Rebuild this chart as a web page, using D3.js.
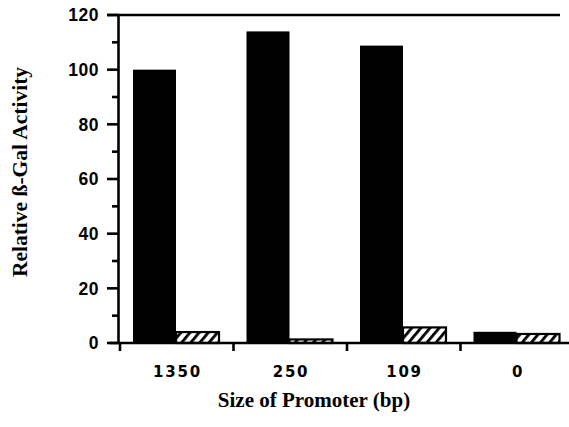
<!DOCTYPE html>
<html>
<head>
<meta charset="utf-8">
<script src="https://cdn.jsdelivr.net/npm/d3@7"></script>
<style>
  html, body { margin: 0; padding: 0; background: #fff; }
  svg { display: block; }
</style>
</head>
<body>
<svg id="chart" width="569" height="427"></svg>
<script>
const categories = ["1350", "250", "109", "0"];
const seriesNames = ["solid", "hatched"];
const solidValues = [100, 114, 108.8, 4.1];
const hatchedValues = [4.0, 1.3, 5.7, 3.3];
const yMajorTicks = [0, 20, 40, 60, 80, 100, 120];
const yMinorTicks = [10, 30, 50, 70, 90, 110];
const yTitle = "Relative ß-Gal Activity";
const xTitle = "Size of Promoter (bp)";

const svg = d3.select("#chart");
const axisX = 118.5;

const y = d3.scaleLinear().domain([0, 120]).range([343, 15]);
const x0 = d3.scaleBand().domain(categories).range([120, 574]).padding(0);
const x1 = d3.scaleBand().domain(seriesNames).range([13, 99]).padding(0);

// hatch pattern
const defs = svg.append("defs");
const pat = defs.append("pattern")
  .attr("id", "hatch")
  .attr("patternUnits", "userSpaceOnUse")
  .attr("width", 7).attr("height", 7)
  .attr("patternTransform", "rotate(40)");
pat.append("rect").attr("width", 7).attr("height", 7).attr("fill", "#fff");
pat.append("rect").attr("x", 0).attr("y", 0).attr("width", 2.8).attr("height", 7).attr("fill", "#000");

const data = categories.map((c, i) => ({ cat: c, vals: [
  { s: "solid", v: solidValues[i] },
  { s: "hatched", v: hatchedValues[i] }
]}));

// bars
const groups = svg.append("g").selectAll("g").data(data).join("g")
  .attr("transform", d => `translate(${x0(d.cat)},0)`);
groups.selectAll("rect").data(d => d.vals).join("rect")
  .attr("x", d => x1(d.s))
  .attr("width", x1.bandwidth())
  .attr("y", d => y(d.v))
  .attr("height", d => y(0) - y(d.v))
  .attr("fill", d => d.s === "solid" ? "#000" : "url(#hatch)")
  .attr("stroke", "#000")
  .attr("stroke-width", d => d.s === "solid" ? 0 : 2.2);

// top frame line
svg.append("line")
  .attr("x1", 107).attr("x2", 560)
  .attr("y1", y(120)).attr("y2", y(120))
  .attr("stroke", "#000").attr("stroke-width", 2.6);

// y axis line
svg.append("line")
  .attr("x1", axisX).attr("x2", axisX)
  .attr("y1", y(120)).attr("y2", y(0) + 1)
  .attr("stroke", "#000").attr("stroke-width", 2.6);

// x axis baseline
svg.append("line")
  .attr("x1", 110).attr("x2", 569)
  .attr("y1", y(0)).attr("y2", y(0))
  .attr("stroke", "#000").attr("stroke-width", 2.6);

// y major ticks
svg.append("g").selectAll("line").data(yMajorTicks).join("line")
  .attr("x1", 107).attr("x2", axisX)
  .attr("y1", d => y(d)).attr("y2", d => y(d))
  .attr("stroke", "#000").attr("stroke-width", 2.6);
// y minor ticks
svg.append("g").selectAll("line").data(yMinorTicks).join("line")
  .attr("x1", 112).attr("x2", axisX)
  .attr("y1", d => y(d)).attr("y2", d => y(d))
  .attr("stroke", "#000").attr("stroke-width", 2.6);
// y tick labels
svg.append("g").selectAll("text").data(yMajorTicks).join("text")
  .attr("x", 99).attr("y", d => y(d))
  .attr("dy", "0.36em")
  .attr("text-anchor", "end")
  .attr("font-family", "Liberation Sans, Arial, sans-serif")
  .attr("font-weight", "bold")
  .attr("font-size", 17.5)
  .attr("letter-spacing", 0.5)
  .text(d => d);

// x ticks
svg.append("g").selectAll("line").data(categories).join("line")
  .attr("x1", d => x0(d)).attr("x2", d => x0(d))
  .attr("y1", y(0)).attr("y2", y(0) + 8)
  .attr("stroke", "#000").attr("stroke-width", 2.6);
// x labels
svg.append("g").selectAll("text").data(categories).join("text")
  .attr("x", d => x0(d) + x1("solid") + x1.bandwidth() + 1.5)
  .attr("y", 376.5)
  .attr("text-anchor", "middle")
  .attr("font-family", "DejaVu Sans, sans-serif")
  .attr("font-weight", "bold")
  .attr("font-size", 15)
  .attr("letter-spacing", 1.8)
  .text(d => d);

// axis titles
svg.append("text")
  .attr("x", 314).attr("y", 407)
  .attr("text-anchor", "middle")
  .attr("font-family", "Liberation Serif, Times New Roman, serif")
  .attr("font-weight", "bold")
  .attr("font-size", 21)
  .text(xTitle);

svg.append("text")
  .attr("transform", "translate(27,172) rotate(-90)")
  .attr("text-anchor", "middle")
  .attr("font-family", "Liberation Serif, Times New Roman, serif")
  .attr("font-weight", "bold")
  .attr("font-size", 21.5)
  .text(yTitle);
</script>
</body>
</html>
